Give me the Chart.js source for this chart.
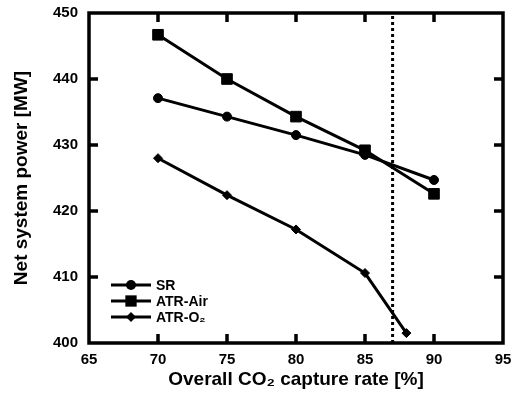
<!DOCTYPE html>
<html>
<head>
<meta charset="utf-8">
<script src="https://cdn.jsdelivr.net/npm/chart.js@4/dist/chart.umd.min.js"></script>
<style>
  html, body { margin: 0; padding: 0; background: #fff; }
  #wrap { width: 517px; height: 393px; }
</style>
</head>
<body>
<div id="wrap"><canvas id="powerChart" width="517" height="393"></canvas></div>
<script>
// ---------- data ----------
var captureRates = [70, 75, 80, 85, 90];
var srPower = [437.1, 434.3, 431.5, 428.5, 424.7];
var atrAirPower = [446.7, 440.0, 434.3, 429.2, 422.6];
var atrO2Rates = [70, 75, 80, 85, 88];
var atrO2Power = [428.0, 422.4, 417.2, 410.6, 401.5];
var limitRate = 87;
var xTicks = [65, 70, 75, 80, 85, 90, 95];
var yTicks = [400, 410, 420, 430, 440, 450];

var FONT = "'Liberation Sans', Arial, Helvetica, sans-serif";

function pairs(xs, ys) {
    return xs.map(function (x, i) { return { x: x, y: ys[i] }; });
}

// draw one marker shape at (x, y)
function marker(ctx, style, x, y, r) {
    ctx.beginPath();
    if (style === "circle") {
        ctx.arc(x, y, r, 0, Math.PI * 2);
    } else if (style === "rect") {
        var s = r * Math.SQRT1_2;
        ctx.rect(x - s, y - s, 2 * s, 2 * s);
    } else {
        ctx.moveTo(x, y - r); ctx.lineTo(x + r, y); ctx.lineTo(x, y + r); ctx.lineTo(x - r, y);
        ctx.closePath();
    }
    ctx.fill();
}

// frame on all four sides with inward tick marks, plus the in-plot legend
var framePlugin = {
    id: "frame",
    afterDraw: function (chart) {
        var ctx = chart.ctx, a = chart.chartArea;
        var xs = chart.scales.x, ys = chart.scales.y;
        var tl = 9;
        ctx.save();
        ctx.strokeStyle = "#000";
        ctx.lineWidth = 3.5;
        ctx.strokeRect(a.left, a.top, a.right - a.left, a.bottom - a.top);
        ctx.beginPath();
        xTicks.slice(1, -1).forEach(function (v) {
            var px = xs.getPixelForValue(v);
            ctx.moveTo(px, a.bottom); ctx.lineTo(px, a.bottom - tl);
            ctx.moveTo(px, a.top); ctx.lineTo(px, a.top + tl);
        });
        yTicks.slice(1, -1).forEach(function (v) {
            var py = ys.getPixelForValue(v);
            ctx.moveTo(a.left, py); ctx.lineTo(a.left + tl, py);
            ctx.moveTo(a.right, py); ctx.lineTo(a.right - tl, py);
        });
        ctx.stroke();

        // legend
        var lx = a.left + 22, ly = a.bottom - 58;
        ctx.font = "bold 14px " + FONT;
        ctx.textBaseline = "middle";
        ctx.fillStyle = "#000";
        chart.data.datasets.forEach(function (ds) {
            if (!ds.inLegend) return;
            ctx.lineWidth = 3;
            ctx.beginPath();
            ctx.moveTo(lx, ly); ctx.lineTo(lx + 40, ly);
            ctx.stroke();
            marker(ctx, ds.pointStyle, lx + 20, ly, ds.pointRadius + 0.5);
            ctx.fillText(ds.label, lx + 45, ly + 1);
            ly += 16;
        });
        ctx.restore();
    }
};

function series(label, xs, ys, style, r) {
    return {
        label: label,
        data: pairs(xs, ys),
        inLegend: true,
        showLine: true,
        borderColor: "#000",
        backgroundColor: "#000",
        borderWidth: 3,
        pointStyle: style,
        pointRadius: r,
        pointBorderWidth: 1,
        pointBorderColor: "#000",
        pointBackgroundColor: "#000"
    };
}

new Chart(document.getElementById("powerChart"), {
    type: "scatter",
    data: {
        datasets: [
            series("SR", captureRates, srPower, "circle", 4.5),
            series("ATR-Air", captureRates, atrAirPower, "rect", 7.5),
            series("ATR-O\u2082", atrO2Rates, atrO2Power, "rectRot", 4.5),
            {
                label: "limit",
                data: [{ x: limitRate, y: yTicks[0] }, { x: limitRate, y: yTicks[yTicks.length - 1] }],
                showLine: true,
                borderColor: "#000",
                borderWidth: 3,
                borderDash: [3, 3],
                pointRadius: 0
            }
        ]
    },
    options: {
        responsive: false,
        animation: false,
        layout: { padding: { left: 0, top: 13, right: 14, bottom: 0 } },
        plugins: { legend: { display: false }, tooltip: { enabled: false } },
        scales: {
            x: {
                type: "linear",
                min: 65, max: 95,
                afterBuildTicks: function (s) { s.ticks = xTicks.map(function (v) { return { value: v }; }); },
                afterFit: function (s) { s.height = 50; s.paddingLeft = 0; s.paddingRight = 0; },
                grid: { display: false, drawTicks: false },
                border: { display: false },
                ticks: { color: "#000", padding: 8, font: { family: FONT, size: 15, weight: "bold" } },
                title: {
                    display: true,
                    text: "Overall CO\u2082 capture rate [%]",
                    color: "#000",
                    padding: { top: 0, bottom: 1.5 },
                    font: { family: FONT, size: 19, weight: "bold" }
                }
            },
            y: {
                type: "linear",
                min: 400, max: 450,
                afterBuildTicks: function (s) { s.ticks = yTicks.map(function (v) { return { value: v }; }); },
                afterFit: function (s) { s.width = 89; s.paddingTop = 0; s.paddingBottom = 0; },
                grid: { display: false, drawTicks: false },
                border: { display: false },
                ticks: { color: "#000", padding: 11, font: { family: FONT, size: 15, weight: "bold" } },
                title: {
                    display: true,
                    text: "Net system power [MW]",
                    color: "#000",
                    padding: { top: 10, bottom: 0 },
                    font: { family: FONT, size: 19, weight: "bold" }
                }
            }
        }
    },
    plugins: [framePlugin]
});
</script>
</body>
</html>
